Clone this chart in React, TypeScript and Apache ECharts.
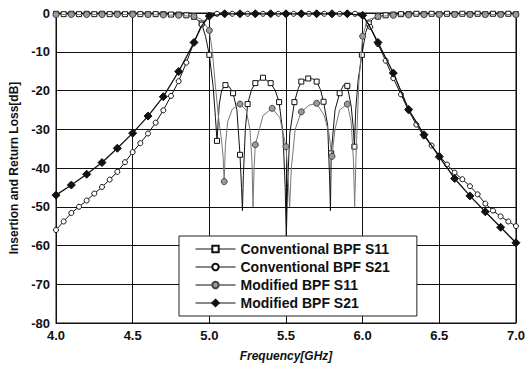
import React, { useEffect, useRef } from "react";
import * as echarts from "echarts";

type P = [number, number];

// Conventional BPF S11 (squares): marker points and extra curve points
const convS11Marks: P[] = [
  [4.0, -0.2], [4.05, -0.3], [4.1, -0.2], [4.15, -0.3], [4.2, -0.2], [4.25, -0.3], [4.3, -0.2],
  [4.35, -0.3], [4.4, -0.2], [4.45, -0.3], [4.5, -0.2], [4.55, -0.3], [4.6, -0.3], [4.65, -0.3],
  [4.7, -0.3], [4.75, -0.4], [4.8, -0.4], [4.85, -0.6], [4.9, -1.0], [4.95, -2.7], [5.0, -10.8],
  [5.05, -33.0], [5.105, -18.6], [5.155, -20.7], [5.2, -36.6], [5.25, -23.5], [5.3, -18.1],
  [5.35, -16.7], [5.4, -18.1], [5.455, -23.0], [5.555, -23.0], [5.6, -17.7], [5.645, -16.9],
  [5.7, -17.7], [5.745, -22.9], [5.795, -36.2], [5.85, -20.7], [5.9, -18.8], [5.946, -34.5],
  [5.995, -10.8], [6.04, -2.7], [6.1, -0.9], [6.15, -0.6], [6.2, -0.4], [6.25, -0.3], [6.3, -0.3],
  [6.35, -0.2], [6.4, -0.3], [6.45, -0.2], [6.5, -0.3], [6.55, -0.2], [6.6, -0.3], [6.65, -0.2],
  [6.7, -0.3], [6.75, -0.2], [6.8, -0.3], [6.85, -0.2], [6.9, -0.3], [6.95, -0.2], [7.0, -0.3],
];
const convS11Curve: P[] = [
  [4.975, -6], [5.025, -19], [5.04, -27], [5.065, -23.5], [5.08, -20], [5.13, -19], [5.18, -25],
  [5.21, -45], [5.216, -51], [5.222, -42], [5.235, -30], [5.275, -19.8], [5.43, -20], [5.48, -31],
  [5.495, -45], [5.502, -58], [5.51, -45], [5.525, -31], [5.58, -19.5], [5.675, -17], [5.725, -19.8],
  [5.772, -29], [5.784, -42], [5.79, -51], [5.82, -25], [5.875, -18.6], [5.925, -24], [5.94, -30],
  [5.955, -25], [5.97, -17.5], [6.02, -5], [6.07, -1.4],
];

// Modified BPF S11 (grey circles)
const modS11Marks: P[] = [
  [4.0, -0.4], [4.1, -0.4], [4.2, -0.4], [4.3, -0.4], [4.4, -0.4], [4.5, -0.4], [4.6, -0.4],
  [4.7, -0.5], [4.8, -0.6], [4.9, -0.9], [5.0, -4.5], [5.097, -43.5], [5.2, -23.5], [5.3, -34],
  [5.41, -24.6], [5.5, -34.5], [5.6, -25.5], [5.7, -23.3], [5.8, -37], [5.9, -23.5], [6.0, -6],
  [6.1, -0.9], [6.2, -0.6], [6.3, -0.5], [6.4, -0.4], [6.5, -0.4], [6.6, -0.4], [6.7, -0.4],
  [6.8, -0.4], [6.9, -0.4], [7.0, -0.4],
];
const modS11Curve: P[] = [
  [4.95, -1.6], [5.02, -10], [5.04, -19], [5.06, -27], [5.08, -33], [5.09, -37], [5.105, -34],
  [5.12, -28], [5.15, -24.8], [5.24, -25], [5.265, -30], [5.278, -38], [5.285, -50], [5.292, -40],
  [5.35, -26.5], [5.46, -27], [5.513, -42], [5.524, -50], [5.535, -40], [5.56, -30], [5.65, -23.8],
  [5.75, -26.5], [5.78, -31], [5.82, -30], [5.85, -25], [5.925, -28], [5.94, -38], [5.948, -50],
  [5.956, -38], [5.975, -18], [6.03, -1.8],
];

// Conventional BPF S21 (open circles)
const convS21Marks: P[] = [
  [4.0, -56], [4.05, -53.8], [4.1, -51.6], [4.15, -50], [4.2, -48.4], [4.25, -46.6], [4.3, -44.9],
  [4.35, -43], [4.4, -41], [4.45, -38.5], [4.5, -35.9], [4.55, -33.6], [4.6, -31.1], [4.65, -28.3],
  [4.7, -25.1], [4.75, -21.4], [4.8, -17.6], [4.85, -12.8], [4.9, -7.6], [4.95, -3], [5.0, -0.6],
  [5.05, -0.2], [5.1, -0.2], [5.15, -0.2], [5.2, -0.2], [5.25, -0.2], [5.3, -0.2], [5.35, -0.2],
  [5.4, -0.2], [5.45, -0.2], [5.5, -0.2], [5.55, -0.2], [5.6, -0.2], [5.65, -0.2], [5.7, -0.2],
  [5.75, -0.2], [5.8, -0.2], [5.85, -0.2], [5.9, -0.2], [5.95, -0.2], [6.0, -0.6], [6.05, -3.6],
  [6.1, -8], [6.15, -12.3], [6.2, -16.8], [6.25, -21], [6.3, -25.2], [6.35, -28.8], [6.4, -31.8],
  [6.45, -34.2], [6.5, -36.8], [6.55, -39.1], [6.6, -41.2], [6.65, -42.9], [6.7, -44.7],
  [6.75, -46.8], [6.8, -49.2], [6.85, -51], [6.9, -52.5], [6.95, -53.8], [7.0, -55],
];

// Modified BPF S21 (filled diamonds)
const modS21Marks: P[] = [
  [4.0, -47], [4.1, -44.4], [4.2, -41.6], [4.3, -38.6], [4.4, -34.9], [4.5, -31], [4.6, -26.6],
  [4.7, -21.6], [4.8, -15.1], [4.9, -7.6], [5.0, -0.8], [5.1, -0.2], [5.2, -0.2], [5.3, -0.2],
  [5.4, -0.2], [5.5, -0.2], [5.6, -0.2], [5.7, -0.2], [5.8, -0.2], [5.9, -0.2], [6.0, -0.6],
  [6.1, -7.6], [6.2, -15.5], [6.3, -24.9], [6.4, -31.4], [6.5, -37.1], [6.6, -42.7], [6.7, -47.2],
  [6.8, -51.3], [6.9, -55.3], [7.0, -59.3],
];
const modS21Curve: P[] = [[4.95, -3.3], [6.04, -3]];

const seriesNames = [
  "Conventional BPF S11",
  "Conventional BPF S21",
  "Modified BPF S11",
  "Modified BPF S21",
];

function build(marks: P[], curve: P[]) {
  const items = [
    ...marks.map((p) => ({ value: p, mark: true })),
    ...curve.map((p) => ({ value: p, mark: false })),
  ].sort((a, b) => a.value[0] - b.value[0]);
  return items.map((it) =>
    it.mark ? { value: it.value } : { value: it.value, symbol: "none" }
  );
}

const FONT = "'Liberation Sans', Arial, sans-serif";

export default function App() {
  const ref = useRef<HTMLDivElement>(null);
  useEffect(() => {
    if (!ref.current) return;
    const chart = echarts.init(ref.current, undefined, { renderer: "svg" });
    chart.setOption({
      animation: false,
      backgroundColor: "#fff",
      grid: {
        left: 56,
        right: 10,
        top: 13,
        bottom: 45,
        show: true,
        borderColor: "#111",
        borderWidth: 1,
      },
      xAxis: {
        type: "value",
        min: 4,
        max: 7,
        interval: 0.5,
        axisLine: { show: true, onZero: false, lineStyle: { color: "#111", width: 1 } },
        axisTick: { show: false },
        splitLine: { show: true, lineStyle: { color: "#111", width: 1 } },
        axisLabel: {
          formatter: (v: number) => v.toFixed(1),
          fontFamily: FONT,
          fontWeight: "bold",
          fontSize: 13,
          color: "#111",
          margin: 6,
        },
        name: "Frequency[GHz]",
        nameLocation: "middle",
        nameGap: 27,
        nameTextStyle: {
          fontFamily: FONT,
          fontWeight: "bold",
          fontStyle: "italic",
          fontSize: 12,
          color: "#111",
        },
      },
      yAxis: {
        type: "value",
        min: -80,
        max: 0,
        interval: 10,
        axisLine: { show: true, lineStyle: { color: "#111", width: 1 } },
        axisTick: { show: false },
        splitLine: { show: true, lineStyle: { color: "#111", width: 1 } },
        axisLabel: {
          fontFamily: FONT,
          fontWeight: "bold",
          fontSize: 13,
          color: "#111",
          margin: 6,
        },
        name: "Insertion and Return Loss[dB]",
        nameLocation: "middle",
        nameGap: 36,
        nameTextStyle: {
          fontFamily: FONT,
          fontWeight: "bold",
          fontSize: 12,
          color: "#111",
        },
      },
      legend: {
        data: seriesNames.map((n) => ({ name: n, lineStyle: { color: "#111", width: 1 } })),
        orient: "vertical",
        left: 179,
        top: 236,
        itemWidth: 40,
        itemHeight: 8,
        itemGap: 4,
        backgroundColor: "#fff",
        borderColor: "#222",
        borderWidth: 1,
        borderRadius: 0,
        padding: [6, 27, 6, 16],
        textStyle: {
          fontFamily: FONT,
          fontWeight: "bold",
          fontSize: 14,
          color: "#111",
          lineHeight: 14,
        },
      },
      series: [
        {
          type: "line",
          name: "Conventional BPF S11",
          data: build(convS11Marks, convS11Curve),
          symbol: "rect",
          symbolSize: 5,
          lineStyle: { color: "#111", width: 1 },
          itemStyle: { color: "#fff", borderColor: "#111", borderWidth: 1 },
          z: 2,
        },
        {
          type: "line",
          name: "Modified BPF S11",
          data: build(modS11Marks, modS11Curve),
          symbol: "circle",
          symbolSize: 6,
          lineStyle: { color: "#777", width: 1 },
          itemStyle: { color: "#9a9a9a", borderColor: "#444", borderWidth: 1 },
          z: 3,
        },
        {
          type: "line",
          name: "Conventional BPF S21",
          data: build(convS21Marks, []),
          symbol: "circle",
          symbolSize: 5,
          lineStyle: { color: "#111", width: 1 },
          itemStyle: { color: "#fff", borderColor: "#111", borderWidth: 1 },
          z: 4,
        },
        {
          type: "line",
          name: "Modified BPF S21",
          data: build(modS21Marks, modS21Curve),
          symbol: "diamond",
          symbolSize: 8,
          lineStyle: { color: "#111", width: 1.3 },
          itemStyle: { color: "#111", borderColor: "#111", borderWidth: 1 },
          z: 5,
        },
      ],
    });
    return () => chart.dispose();
  }, []);
  return (
    <div
      ref={ref}
      style={{ position: "absolute", left: 0, top: 0, width: 528, height: 368 }}
    />
  );
}
